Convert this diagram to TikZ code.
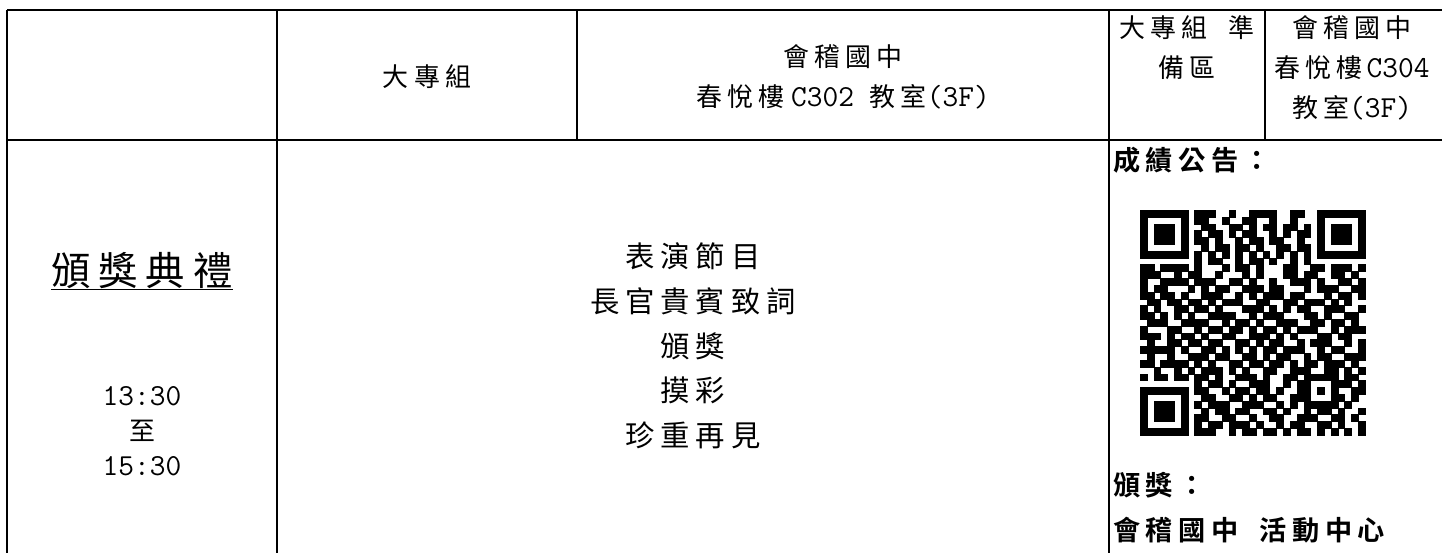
\documentclass[tikz,border=0pt]{standalone}
\usepackage{fontspec}
\usepackage{xstring}
\newfontfamily\cjk{Noto Sans CJK TC}[Scale=0.85,LetterSpace=20,BoldFont={Noto Sans CJK TC Bold}]
\newcommand\zh[1]{{\cjk #1}}

\begin{document}
\begin{tikzpicture}[x=0.75pt,y=-0.75pt,
  frame/.style={line width=1.9pt},
  rule/.style={line width=0.8pt},
  hd/.style={inner sep=0pt,align=center,font=\ttfamily\fontsize{22.9}{30}\selectfont},
  prog/.style={inner sep=0pt,align=center,font=\ttfamily\fontsize{25.9}{33.5}\selectfont},
  tm/.style={inner sep=0pt,align=center,font=\ttfamily\fontsize{22.9}{26.3}\selectfont},
  title/.style={inner sep=0pt,font=\ttfamily\fontsize{34.7}{40}\selectfont},
  note/.style={inner sep=0pt,anchor=west,font=\bfseries\fontsize{24}{30}\selectfont}]

  \fill[white] (0,0) rectangle (1442,553);
  \useasboundingbox (0,0) rectangle (1442,553);

  % table lines
  \draw[frame] (7,10) -- (1442,10);
  \draw[frame] (7,140) -- (1442,140);
  \draw[frame] (7,10) -- (7,553);
  \draw[frame] (277,10) -- (277,553);
  \draw[rule] (1109,10) -- (1109,553);
  \draw[rule] (577,10) -- (577,140);
  \draw[rule] (1265,10) -- (1265,140);

  % header row
  \node[hd] (dz) at (427,77) {\zh{大專組}};
  \node[hd] (hq) at (843,77) {\zh{會稽國中}\\\zh{春悅樓}\hspace{5pt}C302 \zh{教室}(3F)};
  \node[hd,anchor=north] (bz) at (1187,15) {\zh{大專組}\hspace{16pt}\zh{準}\\\zh{備區}};
  \node[hd,anchor=north] (cq) at (1352,15) {\zh{會稽國中}\\\zh{春悅樓}\hspace{3pt}C304\\\zh{教室}(3F)};

  % left column
  \node[title] (bj) at (142,271) {\zh{頒獎典禮}};
  \draw[line width=1.2pt] (bj.south west) -- (bj.south east);
  \node[tm] (time) at (142,431) {13:30\\\zh{至}\\15:30};

  % programme
  \node[prog] (pg) at (693,346) {\zh{表演節目}\\\zh{長官貴賓致詞}\\\zh{頒獎}\\\zh{摸彩}\\\zh{珍重再見}};

  % right column
  \node[note] (cj) at (1113,160) {\zh{成績公告：}};
  \node[note] (bjp) at (1113,485) {\zh{頒獎：}};
  \node[note] (hc) at (1113,530) {\zh{會稽國中}\hspace{16pt}\zh{活動中心}};

  % qr code
  \foreach \row [count=\j from 0] in {
    111111101110010011110011001111111,
    100000101100100110010010001000001,
    101110100110011010110110101011101,
    101110101011010110010101101011101,
    101110101101001011011001001011101,
    100000100101101101001101101000001,
    111111101010101010101010101111111,
    000000001011001011010010100000000,
    110111101000101101000110011011101,
    111001011001000101000110110011010,
    100111101110011010010011101001101,
    101100010101100111011000101110011,
    110110100111001010111011000101101,
    011011011010111001100110111010100,
    101001101101000111010101100111001,
    110101010011110010111000110100110,
    011100111100101101001110011011010,
    100011001011011010110101110010111,
    111010110100110011101010001101100,
    010011011011001101011001011100101,
    111110100110101010110111001011001,
    010010011101100110101100101100111,
    110111101010011011011010110111010,
    001001010111010100110011100110101,
    101101101101001110100110111110110,
    000000001011010011100101100011101,
    111111101100101101101001101010011,
    100000100110011010110011100011010,
    101110101011100111001010111110100,
    101110100101101100110100101101001,
    101110101100110010011001110011010,
    100000101011011101001011001101001,
    111111101110010110110101101010101}
    \foreach \i [count=\k] in {0,...,32} {
      \StrChar{\row}{\k}[\bit]
      \if1\bit\relax
        \fill[draw,line width=0.2pt] ({1140+\i*6.82},{210+\j*6.82}) rectangle ++(6.82,6.82);
      \fi
    };
\end{tikzpicture}
\end{document}
